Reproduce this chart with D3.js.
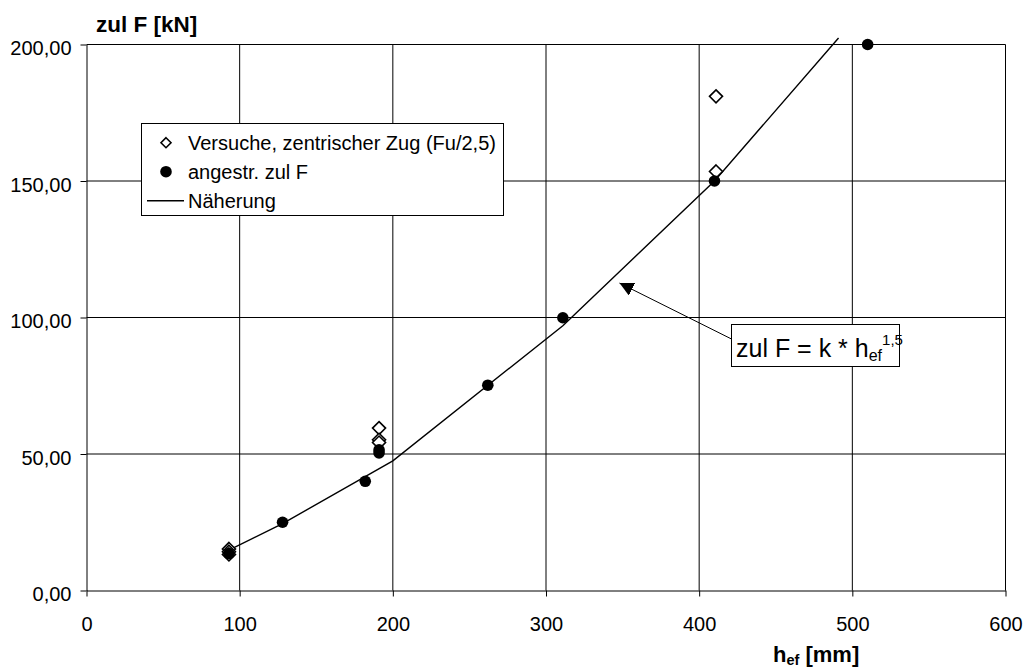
<!DOCTYPE html>
<html><head><meta charset="utf-8">
<script src="https://cdn.jsdelivr.net/npm/d3@7"></script>
<style>body{margin:0;background:#fff}svg{display:block;font-family:"Liberation Sans",Arial,sans-serif}</style>
</head><body><svg id="c" width="1027" height="667"></svg>
<script>
const xTicks = [0,100,200,300,400,500,600];
const yTicks = [0,50,100,150,200];
const versuche = [[93,15.2],[93,14.2],[93,13.2],[191,59.5],[191,55.2],[191,54.2],[411,181],[411,153.5]];
const angestr = [[93,13.5],[128,25],[182,40],[191,50.4],[191,51.5],[262,75.2],[311,99.9],[410,150],[510,200]];
const naeherung = [[92,14.5],[128,24.5],[200,47.5],[311,97],[410,150],[491,202.4]];
const legendLabels = ["Versuche, zentrischer Zug (Fu/2,5)","angestr. zul F","Näherung"];

const svg = d3.select("#c");
const x = d3.scaleLinear([0,600],[86.5,1005.5]);
const y = d3.scaleLinear([0,200],[590.5,44.5]);
const fmt = v => d3.format(".2f")(v).replace(".",",");

// grid
const g = svg.append("g");
g.selectAll(".gx").data(xTicks.slice(1)).join("line")
 .attr("x1",d=>x(d)).attr("x2",d=>x(d)).attr("y1",y(0)).attr("y2",y(200))
 .attr("stroke","#000").attr("stroke-width",1);
g.selectAll(".gy").data(yTicks.slice(1)).join("line")
 .attr("x1",x(0)).attr("x2",x(600)).attr("y1",d=>y(d)).attr("y2",d=>y(d))
 .attr("stroke","#000").attr("stroke-width",1);

// axes
const ax = svg.append("g").attr("transform",`translate(0,${y(0)})`)
 .call(d3.axisBottom(x).tickValues(xTicks).tickSize(6).tickSizeOuter(0).tickFormat(d3.format("d")));
ax.select(".domain").attr("stroke","#000");
ax.selectAll(".tick line").attr("stroke","#000");
ax.selectAll(".tick text").attr("font-size",20).attr("fill","#000").attr("dy",null).attr("y",40);
const ay = svg.append("g").attr("transform",`translate(${x(0)},0)`)
 .call(d3.axisLeft(y).tickValues(yTicks).tickSize(6).tickSizeOuter(0).tickFormat(fmt));
ay.select(".domain").attr("stroke","#000");
ay.selectAll(".tick line").attr("stroke","#000");
ay.selectAll(".tick text").attr("font-size",20).attr("fill","#000").attr("x",-15).attr("dy","0.5em");

// line
svg.append("path").datum(naeherung)
 .attr("d",d3.line().x(d=>x(d[0])).y(d=>y(d[1])))
 .attr("fill","none").attr("stroke","#000").attr("stroke-width",1.4);

const diamond = r => `M0,${-r}L${r},0L0,${r}L${-r},0Z`;
svg.selectAll(".v").data(versuche).join("path")
 .attr("d",diamond(6.5)).attr("transform",d=>`translate(${x(d[0])},${y(d[1])})`)
 .attr("fill","#fff").attr("stroke","#000").attr("stroke-width",1.6);
svg.selectAll(".a").data(angestr).join("circle")
 .attr("cx",d=>x(d[0])).attr("cy",d=>y(d[1])).attr("r",5.8).attr("fill","#000");

// titles
svg.append("text").attr("x",96).attr("y",32).attr("font-size",22.5).attr("font-weight","bold").text("zul F [kN]");
const xl = svg.append("text").attr("x",773).attr("y",662).attr("font-size",22).attr("font-weight","bold");
xl.append("tspan").text("h");
xl.append("tspan").attr("font-size",14.5).attr("dy",3).text("ef");
xl.append("tspan").attr("dy",-3).text(" [mm]");

// legend
const lg = svg.append("g");
lg.append("rect").attr("x",141.5).attr("y",123.5).attr("width",362).attr("height",92)
 .attr("fill","#fff").attr("stroke","#000");
const rows = [142.7,171.7,200.7];
lg.append("path").attr("d",diamond(5)).attr("transform",`translate(166,${rows[0]})`)
 .attr("fill","#fff").attr("stroke","#000").attr("stroke-width",1.6);
lg.append("circle").attr("cx",166).attr("cy",rows[1]).attr("r",5.8).attr("fill","#000");
lg.append("line").attr("x1",147).attr("x2",184).attr("y1",rows[2]).attr("y2",rows[2]).attr("stroke","#000").attr("stroke-width",1.6);
lg.selectAll(".lt").data(legendLabels).join("text")
 .attr("x",188).attr("y",(d,i)=>rows[i]+7).attr("font-size",20).text(d=>d);

// annotation
const tipX = x(348), tipY = y(112.6), tailX = 731.5, tailY = 339;
svg.append("defs").append("marker").attr("id","ah").attr("viewBox","0 0 10 10")
 .attr("refX",10).attr("refY",5).attr("markerWidth",14).attr("markerHeight",14)
 .attr("markerUnits","userSpaceOnUse").attr("orient","auto")
 .append("path").attr("d","M0,0L10,5L0,10Z").attr("fill","#000");
svg.append("line").attr("x1",tailX).attr("y1",tailY).attr("x2",tipX).attr("y2",tipY)
 .attr("stroke","#000").attr("stroke-width",1).attr("marker-end","url(#ah)");
svg.append("rect").attr("x",731.5).attr("y",324.5).attr("width",168).attr("height",42)
 .attr("fill","#fff").attr("stroke","#000");
const at = svg.append("text").attr("x",736).attr("y",357).attr("font-size",25);
at.append("tspan").text("zul F = k * h");
at.append("tspan").attr("font-size",16).attr("dy",4).text("ef");
at.append("tspan").attr("font-size",15).attr("dy",-16).text("1,5");
</script></body></html>
